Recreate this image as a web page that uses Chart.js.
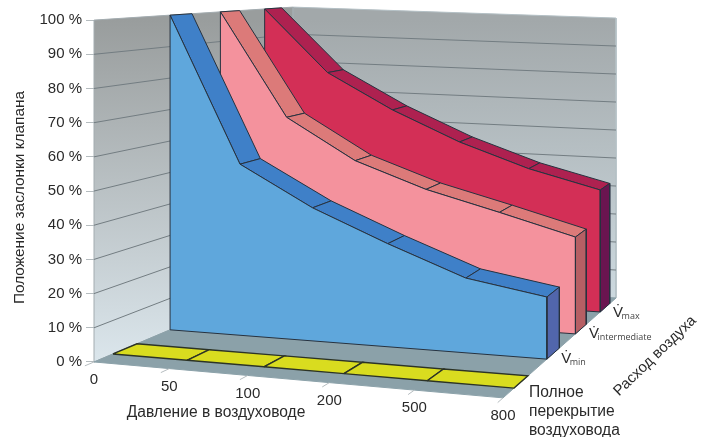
<!DOCTYPE html>
<html><head><meta charset="utf-8">
<style>html,body{margin:0;padding:0;background:#fff}canvas{display:block}</style>
<script src="https://cdn.jsdelivr.net/npm/chart.js@4"></script>
</head><body><canvas id="c" width="711" height="437"></canvas>
<script>
const pressureLabels = ['0','50','100','200','500','800'];
const percentTicks = [0,10,20,30,40,50,60,70,80,90,100];
const closedValues = [0,0,0,0,0,0];
const vMinValues = [100,54.5,42.5,33,24,20];
const vIntermediateValues = [100,66,53,45,39,32.5];
const vMaxValues = [100,78.5,66.5,56.5,48.5,42.5];
const depthSubLabels = ['min','intermediate','max'];
const yTitle = 'Положение заслонки клапана';
const xTitle = 'Давление в воздуховоде';
const depthTitle = 'Расход воздуха';
const closedLabel = ['Полное','перекрытие','воздуховода'];

const FONT = '"Liberation Sans", Arial, sans-serif';
const TXT = '#2a2a2a';

// camera: floor corners and wall heights in axis units
const cam = {FL:[0,0],FR:[.7776,-10.5],BR:[.9924,18.7],BL:[.3783,24.6],H:{FL:100,FR:96.5,BR:81.9,BL:79.2}};
const [x0,y0]=cam.FL,[x1,y1]=cam.FR,[x2,y2]=cam.BR,[x3,y3]=cam.BL;
const dx1=x1-x2,dx2=x3-x2,sx=x0-x1+x2-x3,dy1=y1-y2,dy2=y3-y2,sy=y0-y1+y2-y3;
const det=dx1*dy2-dx2*dy1;
const g=(sx*dy2-dx2*sy)/det,h=(dx1*sy-sx*dy1)/det;
const A={FL:cam.H.FL,FR:cam.H.FR*(1+g),BR:cam.H.BR*(1+g+h),BL:cam.H.BL*(1+h)};
function project(u,v,val){
  const w=1+g*u+h*v;
  const X=(x0+(x1-x0+g*x1)*u+(x3-x0+h*x3)*v)/w;
  const Y=(y0+(y1-y0+g*y1)*u+(y3-y0+h*y3)*v)/w;
  const H=((1-u)*(1-v)*A.FL+u*(1-v)*A.FR+u*v*A.BR+(1-u)*v*A.BL)/w;
  return {x:X,y:Y+H*val/100};
}
const datasets=[];
function shape(pts,fill,stroke,width){
  datasets.push({data:pts.concat(fill?[pts[0]]:[]),showLine:true,fill:fill?'shape':false,backgroundColor:fill||'transparent',
    borderColor:stroke,borderWidth:width===undefined?1:width,pointRadius:0,pointHoverRadius:0,tension:0,clip:false,order:-datasets.length});
}
function wallGrad(top,bottom){
  return c=>{const s=c.chart.scales.y;if(!s||!c.chart.chartArea)return bottom;
    const gr=c.chart.ctx.createLinearGradient(0,s.getPixelForValue(100),0,s.getPixelForValue(0));
    gr.addColorStop(0,top);gr.addColorStop(1,bottom);return gr;};
}
// walls and floor
shape([project(0,1,0),project(0,1,100),project(1,1,100),project(1,1,0)],wallGrad('#a2a8aa','#d6e4eb'),'#b4c0c5');
shape([project(0,0,0),project(0,0,100),project(0,1,100),project(0,1,0)],wallGrad('#999d9d','#dbe6ec'),'#a3acb0');
shape([project(0,0,0),project(1,0,0),project(1,1,0),project(0,1,0)],'#8ba1a9','#8ba1a9');
// gridlines on walls
percentTicks.filter(p=>p>0&&p<100).forEach(p=>shape([project(0,0,p),project(0,1,p),project(1,1,p)],null,'#737d82'));
// pressure ticks
pressureLabels.forEach((_,i)=>{const u=i/(pressureLabels.length-1);shape([project(u,0,0),project(u,-.035,0)],null,'#b5bcbf');});

const halfT=.0525;
function band(vals,idx,front,top,side){
  const c=(idx+.5)/4,vf=c-halfT,vb=c+halfT,n=vals.length-1,edge='#27323f';
  for(let i=0;i<n;i++){
    const a=i/n,b=(i+1)/n;
    shape([project(a,vf,vals[i]),project(b,vf,vals[i+1]),project(b,vb,vals[i+1]),project(a,vb,vals[i])],top,edge);
  }
  shape([project(1,vf,0),project(1,vf,vals[n]),project(1,vb,vals[n]),project(1,vb,0)],side,edge);
  const pts=[project(0,vf,0)];
  vals.forEach((val,i)=>pts.push(project(i/n,vf,val)));
  pts.push(project(1,vf,0));
  shape(pts,front,edge);
}
// yellow strip: flat band
(function(){
  const c=.125,vf=c-.05,vb=c+.05,n=closedValues.length-1;
  for(let i=0;i<n;i++){
    shape([project(i/n,vf,closedValues[i]),project((i+1)/n,vf,closedValues[i+1]),project((i+1)/n,vb,closedValues[i+1]),project(i/n,vb,closedValues[i])],'#d9dc1f','#2c3326',1.4);
  }
})();
band(vMaxValues,3,'#d32f56','#ae2150','#6a1550');
band(vIntermediateValues,2,'#f4929d','#dc7a79','#b65f64');
band(vMinValues,1,'#5fa7dc','#3f80c8','#5166ac');

const textPlugin={id:'texts',afterDatasetsDraw(chart){
  const ctx=chart.ctx,xs=chart.scales.x,ys=chart.scales.y;
  const px=p=>({x:xs.getPixelForValue(p.x),y:ys.getPixelForValue(p.y)});
  ctx.save();ctx.fillStyle=TXT;ctx.font='15px '+FONT;ctx.textBaseline='middle';ctx.textAlign='center';
  pressureLabels.forEach((t,i)=>{const p=px(project(i/(pressureLabels.length-1),0,0));ctx.fillText(t,p.x,p.y+18);});
  const x0p=xs.getPixelForValue(0);
  ctx.save();ctx.translate(655,356);ctx.rotate(-44*Math.PI/180);ctx.fillText(depthTitle,0,0);ctx.restore();
  ctx.font='15.6px '+FONT;
  ctx.fillText(xTitle,x0p+122,413);
  ctx.font='15.4px '+FONT;
  ctx.save();ctx.translate(x0p-74,197.5);ctx.rotate(-Math.PI/2);ctx.fillText(yTitle,0,0);ctx.restore();
  ctx.textAlign='left';
  ctx.font='15.6px '+FONT;
  closedLabel.forEach((t,i)=>ctx.fillText(t,529,393+i*19));
  ctx.textBaseline='alphabetic';
  depthSubLabels.forEach((t,i)=>{
    const p=px(project(1,(i+1.5)/4,0));
    ctx.font='15px '+FONT;ctx.fillStyle=TXT;ctx.fillText('V\u0307',p.x+8,p.y+9);
    ctx.font='9px "Open Sans", sans-serif';ctx.fillStyle='#444';ctx.fillText(t,p.x+16.5,p.y+11);
  });
  ctx.restore();
}};

new Chart(document.getElementById('c'),{
  type:'scatter',
  data:{datasets},
  plugins:[textPlugin],
  options:{
    responsive:false,animation:false,
    layout:{padding:{left:0,top:3,right:91,bottom:34}},
    plugins:{legend:{display:false},tooltip:{enabled:false}},
    scales:{
      x:{type:'linear',min:0,max:1,display:false},
      y:{type:'linear',min:-12,max:105,position:'left',
        afterBuildTicks:s=>{s.ticks=percentTicks.map(v=>({value:v}));},
        afterFit:s=>{s.width=94;s.paddingTop=0;s.paddingBottom=0;},
        grid:{drawOnChartArea:false,drawTicks:true,tickLength:8,color:'#b5bcbf'},
        border:{display:false},
        ticks:{autoSkip:false,padding:4,color:TXT,font:{family:FONT,size:15},callback:v=>v+' %'}
      }
    }
  }
});
</script></body></html>
